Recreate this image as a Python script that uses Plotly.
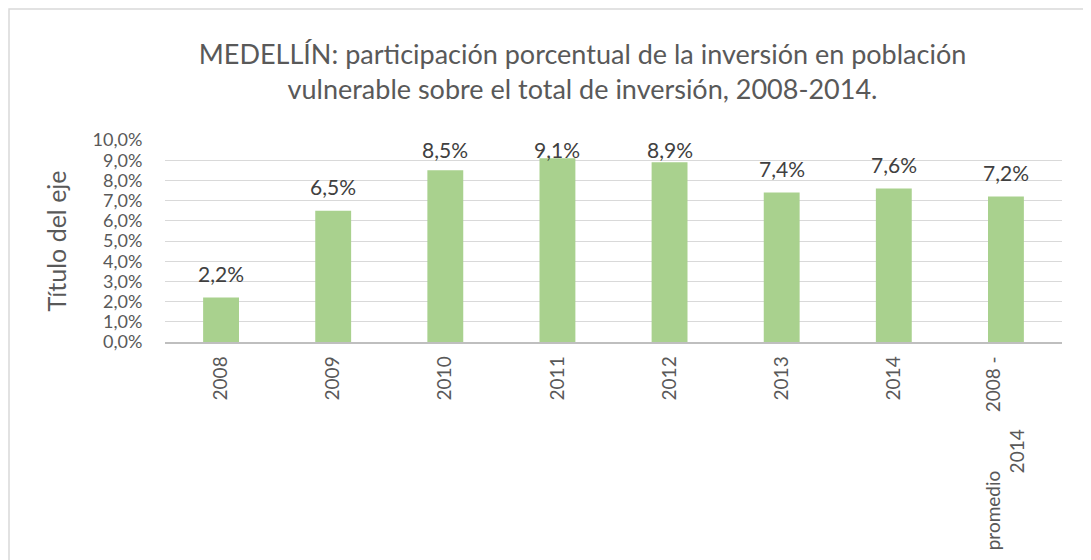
import plotly.graph_objects as go

categories = ["2008", "2009", "2010", "2011", "2012", "2013", "2014",
              "promedio" + "\u00a0" * 12 + "2008 -<br>2014" + "\u00a0" * 15]
values = [0.022, 0.065, 0.085, 0.091, 0.089, 0.074, 0.076, 0.072]
y_ticks = [i / 100 for i in range(0, 11)]

title_text = ("MEDELLÍN: participación porcentual de la inversión en población<br>"
              "vulnerable sobre el total de inversión, 2008-2014.")

font_family = "Lato, 'Open Sans', sans-serif"
text_color = "#595959"

x_pos = list(range(len(categories)))

fig = go.Figure(go.Bar(
    x=x_pos,
    y=values,
    marker=dict(color="#A9D18E", line=dict(width=0)),
    width=0.32,
    hoverinfo="y",
))

# data labels above bars (kept inside the plot area like the original)
annotations = []
for xi, v in zip(x_pos, values):
    label = f"{v * 100:.1f}%".replace(".", ",")
    annotations.append(dict(
        x=xi, y=min(v + 0.012, 0.0955), xref="x", yref="y",
        text=label, showarrow=False, xanchor="center", yanchor="middle",
        font=dict(size=21, color="#404040", family=font_family),
    ))

fig.update_layout(
    width=1083, height=552,
    paper_bgcolor="white", plot_bgcolor="white",
    separators=",.",
    margin=dict(l=157, r=29, t=132, b=218, autoexpand=False),
    showlegend=False,
    title=dict(text=title_text, xref="container", x=0.5305, xanchor="center",
               y=0.898, yanchor="top",
               font=dict(size=27, color=text_color, family=font_family)),
    font=dict(family=font_family, color=text_color),
    annotations=annotations,
    shapes=[dict(type="rect", xref="paper", yref="paper",
                 x0=-0.1739, x1=1.06, y0=-1.2, y1=1.648,
                 line=dict(color="#D9D9D9", width=1.5), layer="below")],
)

fig.update_xaxes(
    tickmode="array", tickvals=x_pos, ticktext=categories,
    tickangle=-90, tickfont=dict(size=19, color=text_color),
    range=[-0.5, len(categories) - 0.5],
    showgrid=False, showline=True, linecolor="#BFBFBF", linewidth=1.5,
    ticks="outside", ticklen=5, tickcolor="rgba(0,0,0,0)", automargin=False,
)
fig.update_yaxes(
    range=[0, 0.1], tickmode="array", tickvals=y_ticks, tickformat=".1%",
    tickfont=dict(size=18, color=text_color),
    showgrid=True, gridcolor="#D9D9D9", gridwidth=1,
    zeroline=False, showline=False,
    ticks="outside", ticklen=18, tickcolor="rgba(0,0,0,0)",
    automargin=False,
    title=dict(text="Título del eje", font=dict(size=25, color=text_color), standoff=18),
)

fig.write_html("out.html")
